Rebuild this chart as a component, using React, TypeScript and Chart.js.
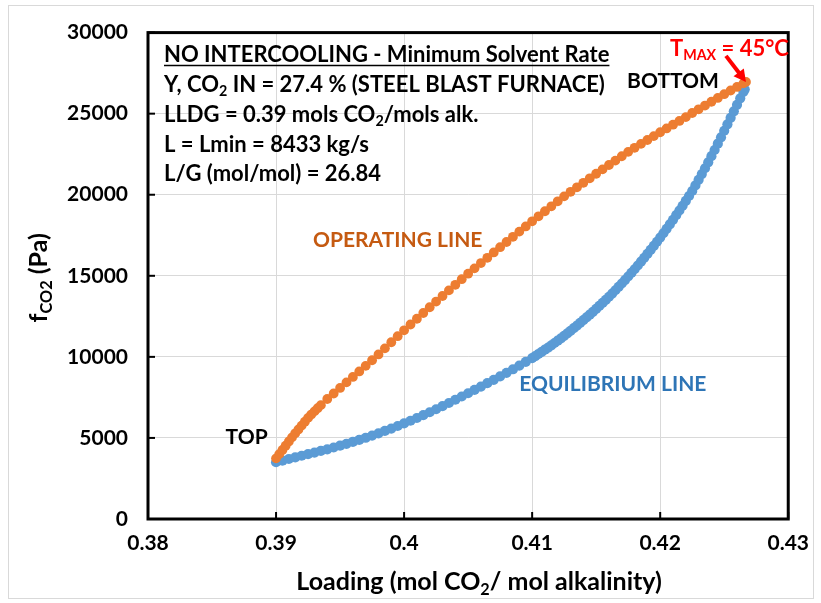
import React, { useEffect, useRef } from "react";
import { Chart, registerables } from "chart.js";

Chart.register(...registerables);

// ---------- data ----------
const opX = [0.3900,0.39025,0.3905,0.39075,0.3910,0.39125,0.3915,0.39175,0.3920,0.39225,0.3925,0.39275,0.3930,0.39325,0.3935,0.3940,0.3945,0.3950,0.3955,0.3960,0.3965,0.3970,0.3975,0.3980,0.3985,0.3990,0.3995,0.4000,0.4005,0.4010,0.4015,0.4020,0.4025,0.4030,0.4035,0.4040,0.4045,0.4050,0.4055,0.4060,0.4065,0.4070,0.4075,0.4080,0.4085,0.4090,0.4095,0.4100,0.4105,0.4110,0.4115,0.4120,0.4125,0.4130,0.4135,0.4140,0.4145,0.4150,0.4155,0.4160,0.4165,0.4170,0.4175,0.4180,0.4185,0.4190,0.4195,0.4200,0.4205,0.4210,0.4215,0.4220,0.4225,0.4230,0.4235,0.4240,0.4245,0.4250,0.4255,0.4260,0.4265,0.4267];
const opY = [3740,4000,4260,4520,4780,5035,5285,5525,5760,6000,6235,6440,6638,6830,7023,7400,7740,8085,8425,8760,9100,9445,9790,10150,10525,10900,11275,11640,11995,12350,12705,13060,13410,13755,14100,14445,14790,15130,15460,15785,16110,16440,16765,17085,17405,17725,18045,18360,18670,18980,19285,19595,19900,20180,20460,20735,21015,21295,21565,21835,22105,22375,22645,22895,23135,23375,23615,23855,24090,24320,24550,24785,25040,25270,25500,25735,25970,26200,26430,26650,26870,26960];

const eqX = [0.3900,0.3905,0.3910,0.3915,0.3920,0.3925,0.3930,0.3935,0.3940,0.3945,0.3950,0.3955,0.3960,0.3965,0.3970,0.3975,0.3980,0.3985,0.3990,0.3995,0.4000,0.4005,0.4010,0.4015,0.4020,0.4025,0.4030,0.4035,0.4040,0.4045,0.4050,0.4055,0.4060,0.4065,0.4070,0.4075,0.4080,0.4085,0.4090,0.4095,0.4100,
  0.41025,0.4105,0.41075,0.411,0.41125,0.4115,0.41175,0.412,0.41225,0.4125,0.41275,0.413,0.41325,0.4135,0.41375,0.414,0.41425,0.4145,0.41475,0.415,0.41525,0.4155,0.41575,0.416,0.41625,0.4165,0.41675,0.417,0.41725,0.4175,0.41775,0.418,0.41825,0.4185,0.41875,0.419,0.41925,0.4195,0.41975,0.42,0.42025,0.4205,0.42075,0.421,0.42125,0.4215,0.42175,0.422,0.42225,0.4225,0.42275,0.423,0.42325,0.4235,0.42375,0.424,0.42425,0.4245,0.42475,0.425,0.42525,0.4255,0.42575,0.426,0.42625,0.4265,0.4266];
const eqY = [3500,3600,3700,3800,3900,4000,4100,4200,4300,4410,4520,4635,4755,4880,5010,5145,5285,5430,5580,5735,5895,6060,6230,6405,6585,6770,6960,7155,7355,7555,7755,7960,8165,8375,8585,8800,9015,9235,9460,9690,9925,
  10050,10178,10308,10441,10576,10714,10855,10999,11146,11296,11451,11608,11768,11930,12095,12262,12432,12604,12779,12957,13139,13325,13515,13709,13907,14109,14315,14525,14739,14957,15179,15405,15635,15869,16107,16349,16595,16845,17099,17357,17624,17895,18171,18452,18737,19027,19321,19620,19923,20231,20571,20918,21272,21633,22001,22376,22758,23147,23543,23946,24346,24746,25146,25546,25946,26346,26500];

const xTicks = [0.38, 0.39, 0.40, 0.41, 0.42, 0.43];
const xTickLabels = ["0.38", "0.39", "0.4", "0.41", "0.42", "0.43"];
const yTicks = [0, 5000, 10000, 15000, 20000, 25000, 30000];
const yTickLabels = ["0", "5000", "10000", "15000", "20000", "25000", "30000"];

type Seg = { t: string; sub?: boolean };
const infoLines: Seg[][] = [
  [{ t: "NO INTERCOOLING - Minimum Solvent Rate" }],
  [{ t: "Y, CO" }, { t: "2", sub: true }, { t: " IN = 27.4 % (STEEL BLAST FURNACE)" }],
  [{ t: "LLDG = 0.39 mols CO" }, { t: "2", sub: true }, { t: "/mols alk." }],
  [{ t: "L = Lmin = 8433 kg/s" }],
  [{ t: "L/G (mol/mol) = 26.84" }],
];
const xTitle: Seg[] = [{ t: "Loading (mol CO" }, { t: "2", sub: true }, { t: "/ mol alkalinity)" }];
const yTitle: Seg[] = [{ t: "f" }, { t: "CO2", sub: true }, { t: " (Pa)" }];
const tmaxLabel: Seg[] = [{ t: "T" }, { t: "MAX", sub: true }, { t: " = 45°C" }];

const ORANGE = "#ED7D31";
const BLUE = "#5B9BD5";
const FONT = 'Lato, "Open Sans", sans-serif';

function font(size: number) {
  return `bold ${size}px ${FONT}`;
}
function richWidth(ctx: CanvasRenderingContext2D, segs: Seg[], size: number) {
  let w = 0;
  for (const s of segs) {
    ctx.font = font(s.sub ? size * 0.65 : size);
    w += ctx.measureText(s.t).width;
  }
  return w;
}
function drawRich(ctx: CanvasRenderingContext2D, segs: Seg[], x: number, y: number, size: number, color: string) {
  ctx.fillStyle = color;
  ctx.textBaseline = "alphabetic";
  ctx.textAlign = "left";
  let cx = x;
  for (const s of segs) {
    const sz = s.sub ? size * 0.65 : size;
    ctx.font = font(sz);
    ctx.fillText(s.t, cx, s.sub ? y + size * 0.2 : y);
    cx += ctx.measureText(s.t).width;
  }
  return cx - x;
}

const overlay = {
  id: "overlay",
  beforeDraw(chart: any) {
    const ctx = chart.ctx as CanvasRenderingContext2D;
    ctx.save();
    ctx.fillStyle = "#ffffff";
    ctx.fillRect(0, 0, chart.width, chart.height);
    ctx.strokeStyle = "#d9d9d9";
    ctx.lineWidth = 1;
    ctx.strokeRect(8.5, 5.5, chart.width - 16, chart.height - 10);
    ctx.restore();
  },
  afterDatasetsDraw(chart: any) {
    const ctx = chart.ctx as CanvasRenderingContext2D;
    const a = chart.chartArea;
    const xs = chart.scales.x;
    const ys = chart.scales.y;
    ctx.save();
    ctx.strokeStyle = "#000";
    ctx.lineWidth = 2;
    for (const v of xTicks) {
      const p = xs.getPixelForValue(v);
      ctx.beginPath();
      ctx.moveTo(p, a.bottom);
      ctx.lineTo(p, a.bottom - 7);
      ctx.stroke();
    }
    for (const v of yTicks) {
      const p = ys.getPixelForValue(v);
      ctx.beginPath();
      ctx.moveTo(a.left, p);
      ctx.lineTo(a.left + 7, p);
      ctx.stroke();
    }
    ctx.lineWidth = 3;
    ctx.strokeRect(a.left, a.top, a.right - a.left, a.bottom - a.top);
    ctx.restore();
  },
  afterDraw(chart: any) {
    const ctx = chart.ctx as CanvasRenderingContext2D;
    const a = chart.chartArea;
    const xs = chart.scales.x;
    const ys = chart.scales.y;
    ctx.save();

    // info text box
    const tx = a.left + 16;
    let ty = a.top + 29.5;
    infoLines.forEach((line, i) => {
      const w = drawRich(ctx, line, tx, ty, 22, "#000");
      if (i === 0) {
        ctx.strokeStyle = "#000";
        ctx.lineWidth = 1.5;
        ctx.beginPath();
        ctx.moveTo(tx, ty + 3.5);
        ctx.lineTo(tx + w, ty + 3.5);
        ctx.stroke();
      }
      ty += 29.8;
    });

    // series labels
    ctx.textAlign = "center";
    ctx.textBaseline = "middle";
    ctx.font = font(21);
    ctx.fillStyle = "#000";
    ctx.fillText("TOP", xs.getPixelForValue(0.3877), ys.getPixelForValue(5050));
    ctx.fillText("BOTTOM", xs.getPixelForValue(0.4210), ys.getPixelForValue(27000));
    ctx.fillStyle = "#C55A11";
    ctx.fillText("OPERATING LINE", xs.getPixelForValue(0.3995), ys.getPixelForValue(17200));
    ctx.fillStyle = "#2E75B6";
    ctx.fillText("EQUILIBRIUM LINE", xs.getPixelForValue(0.4163), ys.getPixelForValue(8340));

    // TMAX label and arrow
    const tipX = xs.getPixelForValue(opX[opX.length - 1]);
    const tipY = ys.getPixelForValue(opY[opY.length - 1]);
    drawRich(ctx, tmaxLabel, tipX - 76, tipY - 26, 22, "#FF0000");
    const sx = tipX - 20, sy = tipY - 26;
    const dx = tipX - sx, dy = tipY - sy;
    const len = Math.hypot(dx, dy);
    const ux = dx / len, uy = dy / len;
    const nx = -uy, ny = ux;
    ctx.strokeStyle = "#FF0000";
    ctx.lineWidth = 4;
    ctx.beginPath();
    ctx.moveTo(sx, sy);
    ctx.lineTo(tipX - ux * 9, tipY - uy * 9);
    ctx.stroke();
    ctx.fillStyle = "#FF0000";
    ctx.beginPath();
    ctx.moveTo(tipX, tipY);
    ctx.lineTo(tipX - ux * 12 + nx * 6.5, tipY - uy * 12 + ny * 6.5);
    ctx.lineTo(tipX - ux * 12 - nx * 6.5, tipY - uy * 12 - ny * 6.5);
    ctx.closePath();
    ctx.fill();

    // axis titles
    const xw = richWidth(ctx, xTitle, 25);
    drawRich(ctx, xTitle, (a.left + a.right) / 2 + 11 - xw / 2, 590, 25, "#000");
    ctx.translate(47, (a.top + a.bottom) / 2 + 2);
    ctx.rotate(-Math.PI / 2);
    const yw = richWidth(ctx, yTitle, 25);
    drawRich(ctx, yTitle, -yw / 2, 0, 25, "#000");
    ctx.restore();
  },
};

export default function App() {
  const ref = useRef<HTMLCanvasElement | null>(null);
  useEffect(() => {
    if (!ref.current) return;
    const chart = new Chart(ref.current, {
      type: "scatter",
      data: {
        datasets: [
          {
            label: "Operating line",
            data: opX.map((x, i) => ({ x, y: opY[i] })),
            backgroundColor: ORANGE,
            borderColor: ORANGE,
            borderWidth: 0,
            pointRadius: 4.9,
            pointHoverRadius: 4.9,
          },
          {
            label: "Equilibrium line",
            data: eqX.map((x, i) => ({ x, y: eqY[i] })),
            backgroundColor: BLUE,
            borderColor: BLUE,
            borderWidth: 0,
            pointRadius: 5.1,
            pointHoverRadius: 5.1,
          },
        ],
      },
      options: {
        responsive: false,
        animation: false,
        devicePixelRatio: 1,
        layout: { padding: { top: 31, right: 29, left: 0, bottom: 0 } },
        plugins: { legend: { display: false }, tooltip: { enabled: false }, title: { display: false } },
        scales: {
          x: {
            type: "linear",
            min: 0.38,
            max: 0.43,
            afterBuildTicks: (s: any) => {
              s.ticks = xTicks.map((v) => ({ value: v }));
            },
            afterFit: (s: any) => {
              s.height = 84;
            },
            ticks: {
              callback: (_v: any, i: number) => xTickLabels[i],
              font: { family: FONT, size: 21, weight: "bold" },
              color: "#000",
              padding: 12,
              maxRotation: 0,
            },
            grid: { color: "#d9d9d9", lineWidth: 1, drawTicks: false },
            border: { display: false },
          },
          y: {
            type: "linear",
            min: 0,
            max: 30000,
            afterBuildTicks: (s: any) => {
              s.ticks = yTicks.map((v) => ({ value: v }));
            },
            afterFit: (s: any) => {
              s.width = 148;
            },
            ticks: {
              callback: (_v: any, i: number) => yTickLabels[i],
              font: { family: FONT, size: 21, weight: "bold" },
              color: "#000",
              padding: 20,
            },
            grid: { color: "#d9d9d9", lineWidth: 1, drawTicks: false },
            border: { display: false },
          },
        },
      },
      plugins: [overlay],
    });
    return () => chart.destroy();
  }, []);
  return (
    <div style={{ position: "fixed", left: 0, top: 0, width: 821, height: 603, background: "#fff" }}>
      <canvas ref={ref} width={821} height={603} style={{ display: "block", width: 821, height: 603 }} />
    </div>
  );
}
